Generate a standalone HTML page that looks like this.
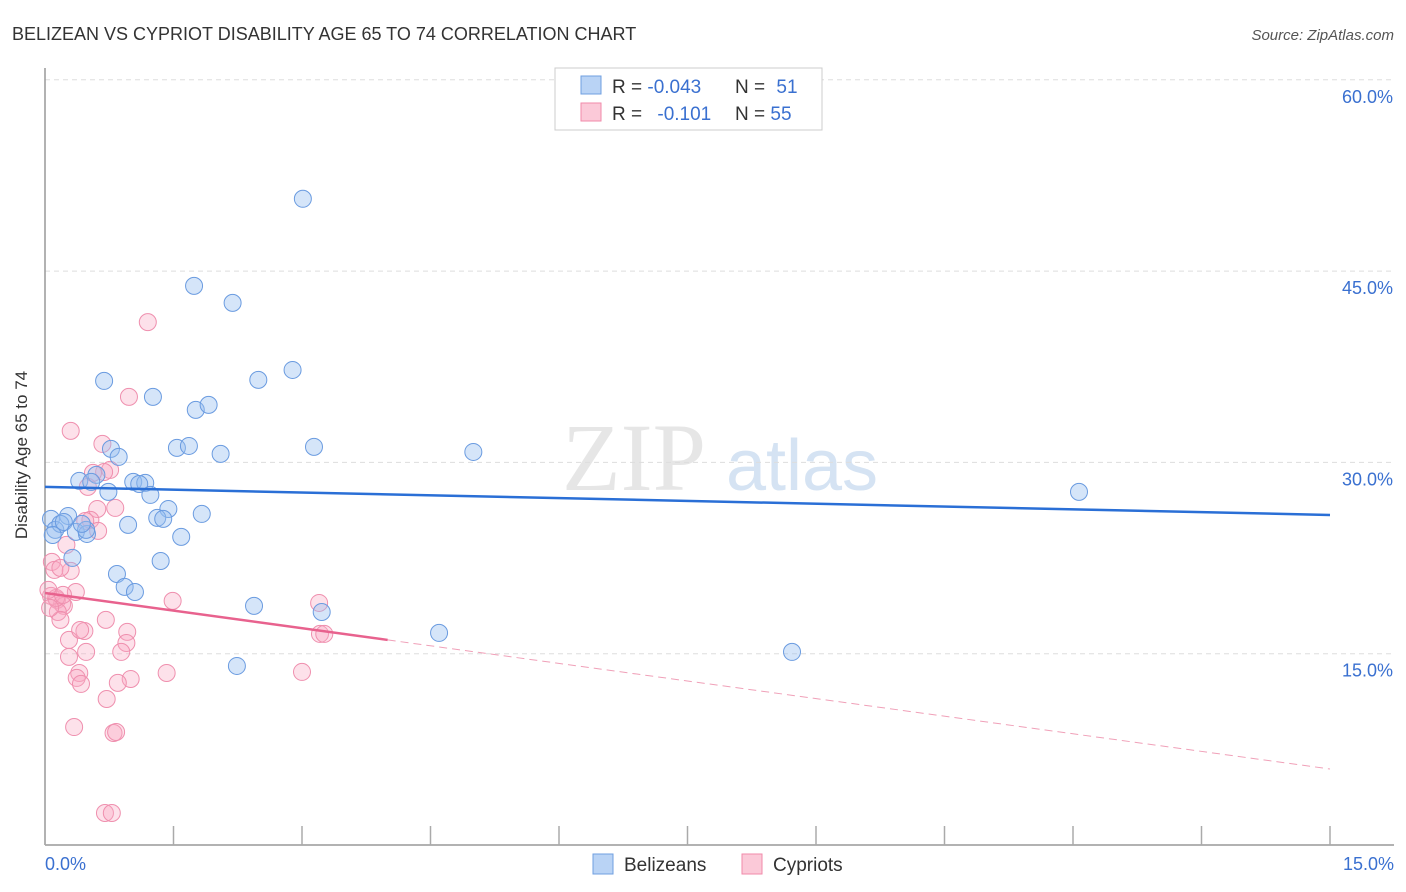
<!DOCTYPE html>
<html><head><meta charset="utf-8"><style>
body{margin:0;background:#fff;font-family:"Liberation Sans",sans-serif}
svg{display:block}
</style></head><body>
<svg width="1406" height="892" xmlns="http://www.w3.org/2000/svg">
<text x="12" y="40" font-size="18" fill="#333">BELIZEAN VS CYPRIOT DISABILITY AGE 65 TO 74 CORRELATION CHART</text>
<text x="1394" y="40" font-size="15" fill="#555" font-style="italic" text-anchor="end">Source: ZipAtlas.com</text>
<g>
<text x="634" y="490" font-size="96" fill="#e6e6e6" font-family="Liberation Serif,serif" text-anchor="middle">ZIP</text>
<text x="802" y="490" font-size="72" fill="#d5e3f3" text-anchor="middle">atlas</text>
</g>
<g id="grid"></g>
<line x1="45" y1="68" x2="45" y2="845" stroke="#999" stroke-width="1.5"/>
<line x1="45" y1="845" x2="1394" y2="845" stroke="#999" stroke-width="1.5"/>
<g id="ticks"></g>
<text x="27" y="455" font-size="17" fill="#333" text-anchor="middle" transform="rotate(-90 27 455)">Disability Age 65 to 74</text>
<text x="45" y="870" font-size="18" fill="#3a70d0">0.0%</text>
<text x="1394" y="870" font-size="18" fill="#3a70d0" text-anchor="end">15.0%</text>
<g id="pts"></g>
<g id="lines"></g>
<g>
<rect x="555" y="68" width="267" height="62" fill="#fff" stroke="#ccc"/>
<rect x="581" y="76" width="20" height="18" fill="#b9d3f5" stroke="#6f9fe0"/>
<rect x="581" y="103" width="20" height="18" fill="#fbc9d8" stroke="#f08aaa"/>
<text x="612" y="93" font-size="19" fill="#333">R = <tspan fill="#3a70d0">-0.043</tspan></text>
<text x="735" y="93" font-size="19" fill="#333">N = <tspan fill="#3a70d0" dx="6">51</tspan></text>
<text x="612" y="120" font-size="19" fill="#333">R = <tspan fill="#3a70d0" dx="10">-0.101</tspan></text>
<text x="735" y="120" font-size="19" fill="#333">N = <tspan fill="#3a70d0">55</tspan></text>
</g>
<g>
<rect x="593" y="854" width="20" height="20" fill="#b9d3f5" stroke="#6f9fe0"/>
<text x="624" y="871" font-size="19" fill="#333">Belizeans</text>
<rect x="742" y="854" width="20" height="20" fill="#fbc9d8" stroke="#f08aaa"/>
<text x="773" y="871" font-size="19" fill="#333">Cypriots</text>
</g>
</svg>
<script>
const yTicks=[15,30,45,60];
const yTickLabels=["15.0%","30.0%","45.0%","60.0%"];
const xTicks=[0,1.5,3,4.5,6,7.5,9,10.5,12,13.5,15];
const blueX=[3.01,1.74,2.19,0.69,2.49,2.89,1.26,1.76,1.91,0.77,0.86,1.54,1.68,2.05,3.14,5.0,12.07,0.40,0.60,0.54,0.74,1.03,1.17,1.10,1.23,1.44,1.31,1.38,1.83,1.59,0.97,0.27,0.07,0.12,0.18,0.22,0.36,0.49,0.48,0.32,1.35,0.84,0.93,1.05,2.44,3.23,4.6,2.24,8.72,0.09,0.43];
const blueY=[50.67,43.84,42.51,36.39,36.47,37.25,35.14,34.12,34.51,31.06,30.43,31.14,31.29,30.67,31.22,30.82,27.69,28.55,29.02,28.47,27.69,28.47,28.39,28.31,27.45,26.35,25.65,25.57,25.96,24.16,25.10,25.80,25.57,24.71,25.18,25.33,24.55,24.39,24.71,22.51,22.27,21.25,20.24,19.84,18.75,18.27,16.63,14.04,15.14,24.31,25.18];
const pinkX=[1.2,0.98,0.30,0.67,0.76,0.69,0.50,0.61,0.82,0.53,0.62,0.25,0.08,0.11,0.30,0.36,0.07,0.14,0.20,0.22,0.15,0.18,0.71,1.49,3.20,0.46,0.28,0.96,0.95,0.48,0.89,0.28,3.21,3.26,1.42,0.40,0.37,0.42,1.00,0.85,3.0,0.72,0.34,0.80,0.83,0.70,0.78,0.18,0.13,0.47,0.56,0.04,0.06,0.41,0.21];
const pinkY=[41.0,35.14,32.47,31.45,29.41,29.25,28.08,26.35,26.43,25.49,24.63,23.53,22.20,21.57,21.49,19.84,19.53,19.22,18.90,18.75,18.27,17.65,17.65,19.14,18.98,16.78,16.08,16.71,15.84,15.14,15.14,14.75,16.55,16.55,13.49,13.49,13.10,12.63,13.02,12.71,13.57,11.45,9.25,8.78,8.86,2.51,2.51,21.73,19.37,25.41,29.18,20.0,18.59,16.86,19.61];
const blueTrend=[28.08,25.88];
const pinkTrend=[19.76,-0.92];
const pinkSolidEnd=4.0;
const NS="http://www.w3.org/2000/svg";
const sx=v=>45+v/15*1285;
const sy=v=>845-v/15*191.3;
function mk(tag,attrs,parent){const e=document.createElementNS(NS,tag);for(const k in attrs)e.setAttribute(k,attrs[k]);parent.appendChild(e);return e;}
const grid=document.getElementById('grid');
yTicks.forEach((t,i)=>{
 const l=mk('line',{x1:45,x2:1394,y1:sy(t),y2:sy(t),stroke:'#ddd','stroke-dasharray':'5,4'},grid);
 
 
 const tx=mk('text',{x:1393,y:sy(t)+23,'font-size':18,fill:'#3a70d0','text-anchor':'end'},grid);
 tx.textContent=yTickLabels[i];
 
 
});
const tk=document.getElementById('ticks');
xTicks.forEach(t=>{
 const l=mk('line',{x1:sx(t),x2:sx(t),y1:826,y2:845,stroke:'#aaa','stroke-width':1.5},tk);
 
 
});
const pts=document.getElementById('pts');
pinkX.forEach((x,i)=>{
 const c=mk('circle',{cx:sx(x),cy:sy(pinkY[i]),r:8.5,fill:'rgba(248,170,195,0.35)',stroke:'#ef8fae','stroke-width':1},pts);
 
 
});
blueX.forEach((x,i)=>{
 const c=mk('circle',{cx:sx(x),cy:sy(blueY[i]),r:8.5,fill:'rgba(150,190,240,0.4)',stroke:'#6a9be0','stroke-width':1},pts);
 
 
});
const lines=document.getElementById('lines');
const bl=mk('line',{x1:sx(0),y1:sy(blueTrend[0]),x2:sx(15),y2:sy(blueTrend[1]),stroke:'#2a6fd6','stroke-width':2.5},lines);


const pv=x=>pinkTrend[0]+pinkTrend[1]*x;
const pl=mk('line',{x1:sx(0),y1:sy(pv(0)),x2:sx(pinkSolidEnd),y2:sy(pv(pinkSolidEnd)),stroke:'#e8628e','stroke-width':2.5},lines);


const pd=mk('line',{x1:sx(pinkSolidEnd),y1:sy(pv(pinkSolidEnd)),x2:sx(15),y2:sy(pv(15)),stroke:'#f0a0b8','stroke-width':1,'stroke-dasharray':'8,5'},lines);


</script>
</body></html>
